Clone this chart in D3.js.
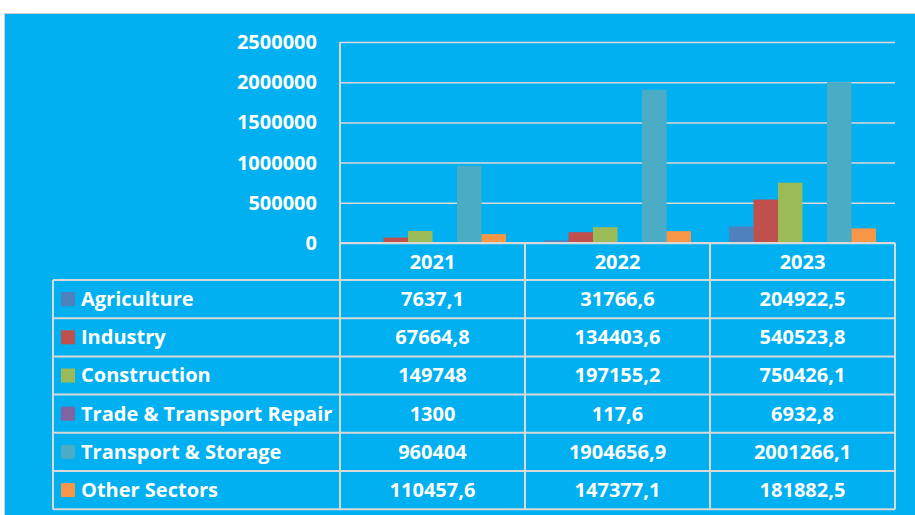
<!DOCTYPE html>
<html>
<head>
<meta charset="utf-8">
<script src="https://cdn.jsdelivr.net/npm/d3@7"></script>
<style>
  body { margin: 0; background: #fff; }
  text { font-family: "Open Sans", sans-serif; font-weight: bold; fill: #fff; }
</style>
</head>
<body>
<svg id="chart" width="915" height="515"></svg>
<script>
// Data
var years = ["2021", "2022", "2023"];
var sectors = ["Agriculture", "Industry", "Construction", "Trade & Transport Repair", "Transport & Storage", "Other Sectors"];
var colors = ["#4F81BD", "#C0504D", "#9BBB59", "#8064A2", "#4BACC6", "#F79646"];
var agriculture = [7637.1, 31766.6, 204922.5];
var industry = [67664.8, 134403.6, 540523.8];
var construction = [149748, 197155.2, 750426.1];
var tradeRepair = [1300, 117.6, 6932.8];
var transportStorage = [960404, 1904656.9, 2001266.1];
var otherSectors = [110457.6, 147377.1, 181882.5];
var yTicks = [0, 500000, 1000000, 1500000, 2000000, 2500000];

var series = [agriculture, industry, construction, tradeRepair, transportStorage, otherSectors];
var fmt = v => String(v).replace(".", ",");

var svg = d3.select("#chart");
var gridColor = "#D9D9D9";
var fontSize = 20;

// blue panel
svg.append("rect")
  .attr("x", 4.5).attr("y", 13.5)
  .attr("width", 915).attr("height", 510)
  .attr("fill", "#00B0F0")
  .attr("stroke", "#D0D0D0");

var plotLeft = 340, plotRight = 895, plotTop = 42, base = 243;
var rowH = 38.2, headH = 37, tableLeft = 53;

var x = d3.scaleBand().domain(years).range([plotLeft, plotRight]);
var xi = d3.scaleBand().domain(sectors).range([0, x.bandwidth()])
  .paddingInner(0).paddingOuter(0.775);
var y = d3.scaleLinear().domain([0, 2500000]).range([base, plotTop]);

// gridlines
svg.append("g")
  .attr("transform", `translate(${plotLeft},0)`)
  .call(d3.axisLeft(y).tickValues(yTicks).tickSize(-(plotRight - plotLeft)).tickFormat(""))
  .call(g => g.select(".domain").remove())
  .call(g => g.selectAll("line").attr("stroke", gridColor).attr("stroke-width", 1.5));

// y labels
svg.append("g")
  .attr("transform", `translate(${plotLeft},0)`)
  .call(d3.axisLeft(y).tickValues(yTicks).tickSize(0).tickPadding(23).tickFormat(d3.format("d")))
  .call(g => g.select(".domain").remove())
  .call(g => g.selectAll("text").attr("font-size", fontSize).attr("fill", "#fff")
    .style("font-family", "'Open Sans', sans-serif").style("font-weight", "bold"));

// bars
var yearG = svg.append("g").selectAll("g")
  .data(years)
  .join("g")
  .attr("transform", d => `translate(${x(d)},0)`);

yearG.selectAll("rect")
  .data((yr, j) => sectors.map((s, i) => ({ s: s, i: i, v: series[i][j] })))
  .join("rect")
  .attr("x", d => xi(d.s))
  .attr("width", xi.bandwidth())
  .attr("y", d => y(d.v))
  .attr("height", d => base - y(d.v))
  .attr("fill", d => colors[d.i]);

// data table
var rowY = i => base + headH + i * rowH;
var tableBottom = rowY(sectors.length);
var lines = svg.append("g").attr("stroke", gridColor).attr("stroke-width", 2);

lines.append("line").attr("x1", plotLeft).attr("x2", plotRight).attr("y1", base).attr("y2", base);
d3.range(sectors.length + 1).forEach(i => {
  lines.append("line").attr("x1", tableLeft).attr("x2", plotRight)
    .attr("y1", rowY(i)).attr("y2", rowY(i));
});
lines.append("line").attr("x1", tableLeft).attr("x2", tableLeft).attr("y1", rowY(0)).attr("y2", tableBottom);
lines.append("line").attr("x1", plotLeft).attr("x2", plotLeft).attr("y1", plotTop).attr("y2", tableBottom);
years.forEach(yr => {
  lines.append("line").attr("x1", x(yr) + x.bandwidth()).attr("x2", x(yr) + x.bandwidth())
    .attr("y1", base).attr("y2", tableBottom);
});

// header
svg.append("g").selectAll("text")
  .data(years)
  .join("text")
  .attr("x", d => x(d) + x.bandwidth() / 2)
  .attr("y", base + headH / 2)
  .attr("dy", "0.35em")
  .attr("text-anchor", "middle")
  .attr("font-size", fontSize)
  .text(d => d);

// rows
var rows = svg.append("g").selectAll("g")
  .data(sectors)
  .join("g")
  .attr("transform", (d, i) => `translate(0,${rowY(i)})`);

rows.append("rect")
  .attr("x", 61).attr("y", rowH / 2 - 7)
  .attr("width", 14).attr("height", 14)
  .attr("fill", (d, i) => colors[i]);

rows.append("text")
  .attr("x", 81).attr("y", rowH / 2).attr("dy", "0.35em")
  .attr("font-size", fontSize)
  .text(d => d);

rows.each(function (s, i) {
  d3.select(this).selectAll("text.val")
    .data(years)
    .join("text")
    .attr("class", "val")
    .attr("x", yr => x(yr) + x.bandwidth() / 2)
    .attr("y", rowH / 2).attr("dy", "0.35em")
    .attr("text-anchor", "middle")
    .attr("font-size", fontSize)
    .text((yr, j) => fmt(series[i][j]));
});
</script>
</body>
</html>
